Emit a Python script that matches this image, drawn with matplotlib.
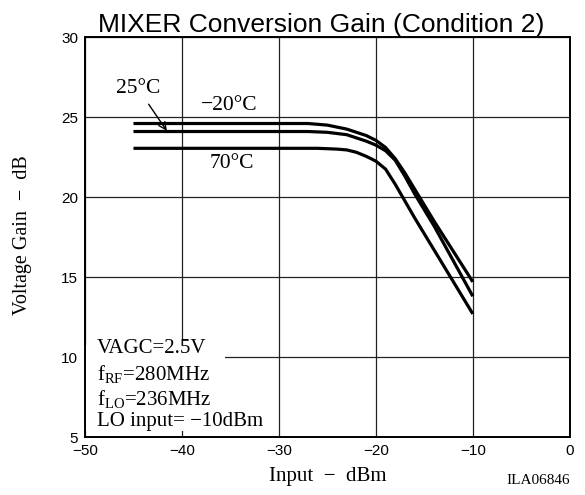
import matplotlib
matplotlib.use("Agg")
import matplotlib.pyplot as plt
from matplotlib.patches import Rectangle

# ---- data ----
x_m20 = [-45, -40, -35, -30, -27, -25, -23, -21, -20, -19, -18, -17, -16, -15, -14, -12, -10]
g_m20 = [24.6, 24.6, 24.6, 24.6, 24.6, 24.5, 24.25, 23.85, 23.55, 23.1, 22.4, 21.5, 20.5, 19.5, 18.5, 16.6, 14.7]

x_25 = [-45, -40, -35, -30, -27, -25, -23, -21, -20, -19, -18, -17, -16, -15, -14, -12, -10]
g_25 = [24.1, 24.1, 24.1, 24.1, 24.1, 24.05, 23.9, 23.5, 23.25, 22.9, 22.3, 21.3, 20.2, 19.2, 18.2, 16.0, 13.8]

x_70 = [-45, -40, -35, -30, -26, -24, -23, -22, -21, -20, -19, -18, -17, -16, -15, -14, -12, -10]
g_70 = [23.05, 23.05, 23.05, 23.05, 23.05, 23.0, 22.95, 22.8, 22.55, 22.25, 21.75, 20.8, 19.75, 18.7, 17.7, 16.7, 14.7, 12.7]

x_ticks = [-50, -40, -30, -20, -10, 0]
y_ticks = [5, 10, 15, 20, 25, 30]

title = "MIXER Conversion Gain (Condition 2)"
cond_lines = ["VAGC=2.5V", r"f$_{\mathrm{RF}}$=280MHz", r"f$_{\mathrm{LO}}$=236MHz", "LO input= \u221210dBm"]

plt.rcParams['mathtext.fontset'] = 'custom'
plt.rcParams['mathtext.rm'] = 'Liberation Serif'
plt.rcParams['mathtext.it'] = 'Liberation Serif:italic'
plt.rcParams['mathtext.bf'] = 'Liberation Serif:bold'

serif = 'Liberation Serif'
sans = 'Liberation Sans'

fig = plt.figure(figsize=(5.85, 4.95), dpi=100)
ax = fig.add_axes([0.1453, 0.117, 0.8287, 0.808])

for xs, ys in [(x_m20, g_m20), (x_25, g_25), (x_70, g_70)]:
    ax.plot(xs, ys, color='black', lw=2.3, solid_capstyle='butt', solid_joinstyle='round', zorder=3)

ax.set_xlim(-50, 0)
ax.set_ylim(5, 30)
ax.set_xticks(x_ticks)
ax.set_yticks(y_ticks)
ax.set_xticklabels([str(v).replace('-', '\u2212') for v in x_ticks], family=sans, fontsize=11)
ax.set_yticklabels([str(v) for v in y_ticks], family=sans, fontsize=11)
ax.tick_params(length=0)
ax.tick_params(axis='x', pad=5)
ax.tick_params(axis='y', pad=5)
ax.grid(True, color='#222222', lw=0.9)
ax.set_axisbelow(True)
for s in ax.spines.values():
    s.set_linewidth(1.4)

fig.text(0.549, 0.935, title, family=sans, fontsize=19, ha='center', va='baseline')
fig.text(0.56, 0.028, "Input  \u2212  dBm", family=serif, fontsize=15, ha='center', va='baseline')
fig.text(0.975, 0.022, "ILA06846", family=serif, fontsize=11, ha='right', va='baseline')
fig.text(0.038, 0.525, "Voltage Gain  \u2212  dB", family=serif, fontsize=14.5, ha='center', va='center', rotation=90)

# labels for curves
ax.text(0.110, 0.872, "25\u00b0C", transform=ax.transAxes, family=serif, fontsize=15.5, ha='center', va='center')
ax.text(0.297, 0.830, "\u221220\u00b0C", transform=ax.transAxes, family=serif, fontsize=15.5, ha='center', va='center')
ax.text(0.302, 0.685, "70\u00b0C", transform=ax.transAxes, family=serif, fontsize=15.5, ha='center', va='center')
ax.annotate("", xy=(0.172, 0.760), xytext=(0.128, 0.838), xycoords='axes fraction',
            arrowprops=dict(arrowstyle='->', color='black', lw=1.0, mutation_scale=13), zorder=5)

# condition box
ax.add_patch(Rectangle((0.003, 0.015), 0.285, 0.215, transform=ax.transAxes,
                       facecolor='white', edgecolor='none', zorder=2))
ys_txt = [0.222, 0.158, 0.096, 0.040]
for t, yy in zip(cond_lines, ys_txt):
    ax.text(0.024, yy, t, transform=ax.transAxes, family=serif, fontsize=15,
            ha='left', va='center', zorder=4)

fig.savefig("out.png", dpi=100)
